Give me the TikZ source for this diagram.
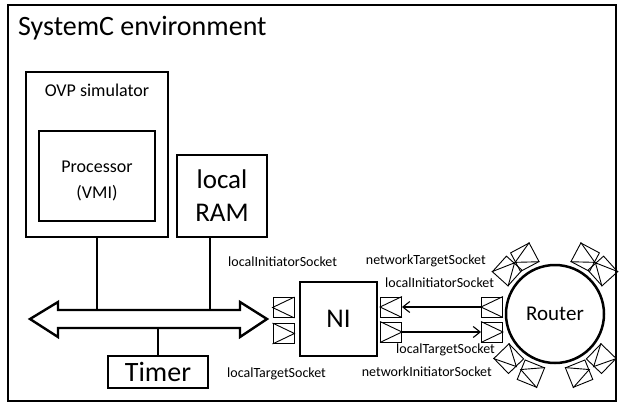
\documentclass[tikz,border=0pt]{standalone}
\usepackage{fontspec}
\setmainfont{Carlito}
\usetikzlibrary{arrows.meta,calc}
\begin{document}
\begin{tikzpicture}[x=1pt,y=-1pt,
  box/.style={draw, line width=2.6pt, inner sep=0pt, align=center},
  sock/.style={draw, line width=0.9pt, minimum width=21pt, minimum height=20pt, inner sep=0pt},
  tri/.style={line width=0.9pt},
  lbl/.style={font=\fontsize{14}{16}\selectfont, inner sep=0pt},
  conn/.style={line width=2pt},
  sarrow/.style={line width=1.1pt, -{Straight Barb[length=7pt,width=11pt]}}
]
\useasboundingbox (0,0) rectangle (622,407);
\node[draw, line width=2pt, minimum width=608pt, minimum height=396pt, inner sep=0pt] (env) at (312,203) {};
\node[anchor=west, font=\fontsize{28}{30}\selectfont, inner sep=0pt] (title) at (18,28) {SystemC environment};
\node[box, minimum width=142pt, minimum height=165pt] (ovp) at (97,154.5) {};
\node[font=\fontsize{18}{22}\selectfont, inner sep=0pt] (ovplbl) at (97,90) {OVP simulator};
\node[box, minimum width=116pt, minimum height=90pt] (proc) at (97,176) {};
\node[font=\fontsize{18}{26}\selectfont, align=center, inner sep=0pt] (proclbl) at (97,181) {Processor\\(VMI)};
\node[box, minimum width=90pt, minimum height=82pt, font=\fontsize{27}{33}\selectfont] (ram) at (222,196) {local\\RAM};
\node[box, minimum width=100pt, minimum height=32pt, font=\fontsize{28}{30}\selectfont] (timer) at (158,372) {Timer};
\node[box, minimum width=77pt, minimum height=74pt, font=\fontsize{27}{30}\selectfont] (ni) at (338.5,319) {NI};
\node[draw, circle, line width=2.5pt, minimum size=98pt, inner sep=0pt, font=\fontsize{21}{24}\selectfont] (router) at (555,314) {Router};

% bus
\coordinate (bustop) at (0,310);
\coordinate (busbot) at (0,328);
\draw[line width=2.4pt, line join=miter] (30,319) -- (58,302) -- (58,310) -- (240,310) -- (240,302) -- (267,319) -- (240,337) -- (240,328) -- (58,328) -- (58,337) -- cycle;
\draw[conn] (ovp.south) -- (ovp.south |- bustop);
\draw[conn] ([xshift=-12pt]ram.south) -- ([xshift=-12pt]ram.south |- bustop);
\draw[conn] (timer.north) -- (timer.north |- busbot);

% NI sockets
\node[sock] (nlA) at (283.5,307.5) {};
\node[sock] (nlB) at (283.5,333.5) {};
\node[sock] (nrA) at (391,307) {};
\node[sock] (nrB) at (391,332) {};
\node[sock] (rA) at (492,307) {};
\node[sock] (rB) at (492,332) {};
\foreach \s in {nlA,nrA,rA}
  \draw[tri] (\s.north east) -- (\s.west) -- (\s.south east);
\foreach \s in {nlB,nrB,rB}
  \draw[tri] (\s.north west) -- (\s.east) -- (\s.south west);
\draw[sarrow] (rA.west) -- (nrA.east);
\draw[sarrow] (nrB.east) -- (rB.west);

% router sockets
\foreach \a/\n in {118/1,138/2,42/3,62/4,224/5,248/6,292/7,316/8}
  \node[sock, minimum width=21pt, minimum height=21pt, rotate=\a-90] (rs\n) at ($(router.center)!1.28!(router.\a)$) {};
\foreach \n in {1,3,5,7}
  \draw[tri] (rs\n.north east) -- (rs\n.west) -- (rs\n.south east);
\foreach \n in {2,4,6,8}
  \draw[tri] (rs\n.north west) -- (rs\n.east) -- (rs\n.south west);

% labels
\node[lbl, anchor=west] (l1) at (228,262) {localInitiatorSocket};
\node[lbl, anchor=west] (l2) at (227,374) {localTargetSocket};
\node[lbl, anchor=east] (l3) at (486,261) {networkTargetSocket};
\node[lbl, anchor=west] (l4) at (385,283) {localInitiatorSocket};
\node[lbl, anchor=west] (l5) at (396,350) {localTargetSocket};
\node[lbl, anchor=east] (l6) at (492,372) {networkInitiatorSocket};
\end{tikzpicture}
\end{document}
